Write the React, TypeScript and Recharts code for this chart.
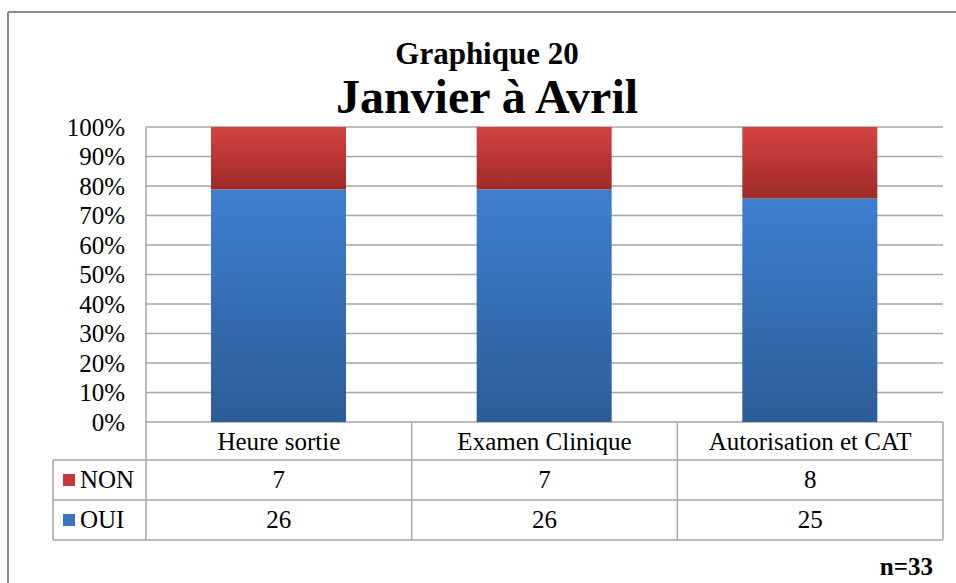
import React from "react";
import { Bar, BarChart, CartesianGrid, YAxis, XAxis } from "recharts";

const categories = ["Heure sortie", "Examen Clinique", "Autorisation et CAT"];
const oui = [26, 26, 25];
const non = [7, 7, 8];
const yTicks = [0, 0.1, 0.2, 0.3, 0.4, 0.5, 0.6, 0.7, 0.8, 0.9, 1];

const W = 956;
const H = 583;
const plotLeft = 146;
const plotRight = 943;
const plotTop = 127;
const plotBottom = 422;
const serif = "Tinos, 'Nimbus Roman', 'Nimbus Roman No9 L', FreeSerif, 'Noto Serif', 'Times New Roman', Times, 'Liberation Serif', 'DejaVu Serif', serif";
const gridColor = "#a6a6a6";

const data = categories.map((c, i) => ({ name: c, OUI: oui[i], NON: non[i] }));

function DataTable() {
  const colW = (plotRight - plotLeft) / categories.length;
  const rows = [
    { label: "NON", values: non, color: "#c83a37", top: 460 },
    { label: "OUI", values: oui, color: "#3a74c0", top: 500 },
  ];
  return (
    <svg width={W} height={H} style={{ position: "absolute", left: 0, top: 0, pointerEvents: "none", fontFamily: serif }}>
      {/* outer frame */}
      <line x1={8} y1={12} x2={W} y2={12} stroke="#8a8a8a" strokeWidth={2} />
      <line x1={8} y1={12} x2={8} y2={H} stroke="#8a8a8a" strokeWidth={2} />
      <text x={487} y={64} textAnchor="middle" fontWeight="bold" fontSize={31}>Graphique 20</text>
      <text x={487} y={113} textAnchor="middle" fontWeight="bold" fontSize={48}>Janvier à Avril</text>

      {/* header row of the data table */}
      <line x1={plotLeft} y1={plotBottom} x2={plotLeft} y2={540} stroke={gridColor} strokeWidth={1.5} />
      {categories.map((c, i) => (
        <g key={c}>
          <line x1={plotLeft + colW * (i + 1)} y1={plotBottom} x2={plotLeft + colW * (i + 1)} y2={540} stroke={gridColor} strokeWidth={1.5} />
          <text x={plotLeft + colW * (i + 0.5)} y={450} textAnchor="middle" fontSize={25}>{c}</text>
        </g>
      ))}
      <line x1={53} y1={460} x2={plotRight} y2={460} stroke={gridColor} strokeWidth={1.5} />
      <line x1={53} y1={500} x2={plotRight} y2={500} stroke={gridColor} strokeWidth={1.5} />
      <line x1={53} y1={540} x2={plotRight} y2={540} stroke={gridColor} strokeWidth={1.5} />
      <line x1={53} y1={460} x2={53} y2={540} stroke={gridColor} strokeWidth={1.5} />
      {rows.map((r) => (
        <g key={r.label}>
          <rect x={63} y={r.top + 14} width={12} height={12} fill={r.color} />
          <text x={80} y={r.top + 28} fontSize={25}>{r.label}</text>
          {r.values.map((v, i) => (
            <text key={i} x={plotLeft + colW * (i + 0.5)} y={r.top + 28} textAnchor="middle" fontSize={25}>{v}</text>
          ))}
        </g>
      ))}
      <text x={933} y={575} textAnchor="end" fontWeight="bold" fontSize={25}>n=33</text>
    </svg>
  );
}

export default function App() {
  return (
    <div style={{ position: "absolute", left: 0, top: 0, width: W, height: H, background: "#fff", fontFamily: serif }}>
      <BarChart
        width={W}
        height={H}
        data={data}
        stackOffset="expand"
        barSize={135}
        margin={{ top: plotTop, right: W - plotRight, bottom: H - plotBottom, left: 0 }}
      >
        <defs>
          <linearGradient id="gOui" x1="0" y1="0" x2="0" y2="1">
            <stop offset="0%" stopColor="#3e7fd0" />
            <stop offset="100%" stopColor="#2c5c97" />
          </linearGradient>
          <linearGradient id="gNon" x1="0" y1="0" x2="0" y2="1">
            <stop offset="0%" stopColor="#d44240" />
            <stop offset="100%" stopColor="#9d2b28" />
          </linearGradient>
        </defs>
        <CartesianGrid vertical={false} stroke={gridColor} strokeWidth={1.5} horizontalValues={yTicks} />
        <XAxis dataKey="name" hide />
        <YAxis
          width={plotLeft}
          domain={[0, 1]}
          ticks={yTicks}
          tickFormatter={(v: number) => `${Math.round(v * 100)}%`}
          tick={{ fill: "#000", fontFamily: serif, fontSize: 25 }}
          tickLine={false}
          tickSize={0}
          tickMargin={21}
          axisLine={{ stroke: gridColor, strokeWidth: 1.5 }}
          interval={0}
        />
        <Bar dataKey="OUI" stackId="a" fill="url(#gOui)" isAnimationActive={false} />
        <Bar dataKey="NON" stackId="a" fill="url(#gNon)" isAnimationActive={false} />
      </BarChart>
      <DataTable />
    </div>
  );
}
